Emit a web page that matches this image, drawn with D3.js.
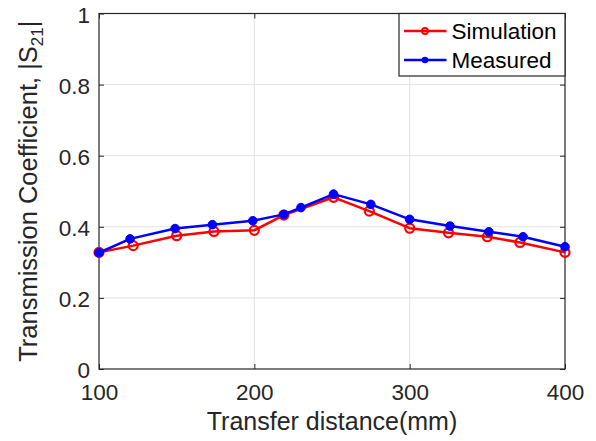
<!DOCTYPE html>
<html>
<head>
<meta charset="utf-8">
<script src="https://cdn.jsdelivr.net/npm/d3@7/dist/d3.min.js"></script>
<style>
  html, body { margin: 0; padding: 0; background: #fff; }
  svg { display: block; font-family: "Liberation Sans", Arial, sans-serif; }
</style>
</head>
<body>
<svg id="chart" width="596" height="441"></svg>
<script>
// Transfer distance (mm) and |S21| for each series
const simDistance = [100, 122, 150, 174, 200, 219, 251, 274, 300, 325, 350, 371, 400];
const simS21      = [0.328, 0.347, 0.375, 0.387, 0.390, 0.433, 0.483, 0.444, 0.396, 0.383, 0.372, 0.356, 0.328];
const measDistance = [100, 120, 149, 173, 199, 219, 230, 251, 275, 300, 326, 351, 373, 400];
const measS21      = [0.327, 0.366, 0.395, 0.406, 0.417, 0.435, 0.454, 0.492, 0.463, 0.421, 0.402, 0.386, 0.372, 0.344];

const xTicks = [100, 200, 300, 400];
const yTicks = [0, 0.2, 0.4, 0.6, 0.8, 1];

const seriesNames = ["Simulation", "Measured"];
const seriesColors = ["#ff0000", "#0000ff"];

const margin = { left: 99, right: 31, top: 13.5, bottom: 72 };
const W = 596, H = 441;
const iw = W - margin.left - margin.right;
const ih = H - margin.top - margin.bottom;

const svg = d3.select("#chart");
const g = svg.append("g").attr("transform", `translate(${margin.left},${margin.top})`);

const x = d3.scaleLinear().domain([100, 400]).range([0, iw]);
const y = d3.scaleLinear().domain([0, 1]).range([ih, 0]);

const axisColor = "#262626";

// grid
g.append("g").selectAll("line.gx").data(xTicks.slice(1, -1)).join("line")
  .attr("x1", d => x(d)).attr("x2", d => x(d)).attr("y1", 0).attr("y2", ih)
  .attr("stroke", "#e3e3e3").attr("stroke-width", 1);
g.append("g").selectAll("line.gy").data(yTicks.slice(1, -1)).join("line")
  .attr("y1", d => y(d)).attr("y2", d => y(d)).attr("x1", 0).attr("x2", iw)
  .attr("stroke", "#e3e3e3").attr("stroke-width", 1);

// axes with inward ticks
const fmtY = d => d === 0 ? "0" : d === 1 ? "1" : d3.format(".1f")(d);
function styleAxis(sel) {
  sel.select(".domain").remove();
  sel.selectAll(".tick line").attr("stroke", axisColor);
  sel.selectAll(".tick text").attr("fill", axisColor).attr("font-size", 22.5)
    .attr("font-family", "'Liberation Sans', Arial, sans-serif");
}
g.append("g").attr("transform", `translate(0,${ih})`)
  .call(d3.axisBottom(x).tickValues(xTicks).tickSizeInner(-5).tickSizeOuter(0).tickPadding(15))
  .call(styleAxis);
g.append("g")
  .call(d3.axisLeft(y).tickValues(yTicks).tickFormat(fmtY).tickSizeInner(-5).tickSizeOuter(0).tickPadding(9))
  .call(styleAxis)
  .selectAll(".tick text").attr("dy", "0.38em");
g.append("g")
  .call(d3.axisTop(x).tickValues(xTicks).tickFormat("").tickSizeInner(-5).tickSizeOuter(0))
  .call(styleAxis);
g.append("g").attr("transform", `translate(${iw},0)`)
  .call(d3.axisRight(y).tickValues(yTicks).tickFormat("").tickSizeInner(-5).tickSizeOuter(0))
  .call(styleAxis);

// box
g.append("rect").attr("x", 0).attr("y", 0).attr("width", iw).attr("height", ih)
  .attr("fill", "none").attr("stroke", axisColor).attr("stroke-width", 1.2);

// series
const line = d3.line().x(d => x(d[0])).y(d => y(d[1]));
const simData = simDistance.map((d, i) => [d, simS21[i]]);
const measData = measDistance.map((d, i) => [d, measS21[i]]);

g.append("path").datum(simData).attr("d", line)
  .attr("fill", "none").attr("stroke", seriesColors[0]).attr("stroke-width", 2.5)
  .attr("stroke-linejoin", "round");
g.append("g").selectAll("circle").data(simData).join("circle")
  .attr("cx", d => x(d[0])).attr("cy", d => y(d[1])).attr("r", 4.5)
  .attr("fill", "none").attr("stroke", seriesColors[0]).attr("stroke-width", 2.2);

g.append("path").datum(measData).attr("d", line)
  .attr("fill", "none").attr("stroke", seriesColors[1]).attr("stroke-width", 2.5)
  .attr("stroke-linejoin", "round");
g.append("g").selectAll("circle").data(measData).join("circle")
  .attr("cx", d => x(d[0])).attr("cy", d => y(d[1])).attr("r", 4.3)
  .attr("fill", seriesColors[1]).attr("stroke", seriesColors[1]).attr("stroke-width", 1);

// legend
const lg = g.append("g").attr("transform", `translate(${iw - 166},0)`);
lg.append("rect").attr("x", 0).attr("y", 0).attr("width", 166).attr("height", 62.5)
  .attr("fill", "#fff").attr("stroke", axisColor).attr("stroke-width", 1.2);
seriesNames.forEach((name, i) => {
  const cy = 17.5 + i * 29;
  lg.append("line").attr("x1", 5).attr("x2", 47.5).attr("y1", cy).attr("y2", cy)
    .attr("stroke", seriesColors[i]).attr("stroke-width", 2.5);
  if (i === 0) {
    lg.append("circle").attr("cx", 26).attr("cy", cy).attr("r", 3)
      .attr("fill", "none").attr("stroke", seriesColors[i]).attr("stroke-width", 1.8);
  } else {
    lg.append("circle").attr("cx", 26).attr("cy", cy).attr("r", 3.3)
      .attr("fill", seriesColors[i]);
  }
  lg.append("text").attr("x", 52.5).attr("y", cy).attr("dy", "0.36em")
    .attr("font-size", 22.5).attr("fill", "#000").text(name);
});

// axis titles
svg.append("text")
  .attr("x", margin.left + iw / 2).attr("y", 430)
  .attr("text-anchor", "middle").attr("font-size", 25).attr("fill", axisColor)
  .text("Transfer distance(mm)");

const yl = svg.append("text")
  .attr("transform", `translate(37,${margin.top + ih / 2}) rotate(-90)`)
  .attr("text-anchor", "middle").attr("font-size", 25.5).attr("fill", axisColor);
yl.append("tspan").text("Transmission Coefficient, |S");
yl.append("tspan").attr("font-size", 17).attr("dy", 6).text("21");
yl.append("tspan").attr("dy", -6).text("|");
</script>
</body>
</html>
